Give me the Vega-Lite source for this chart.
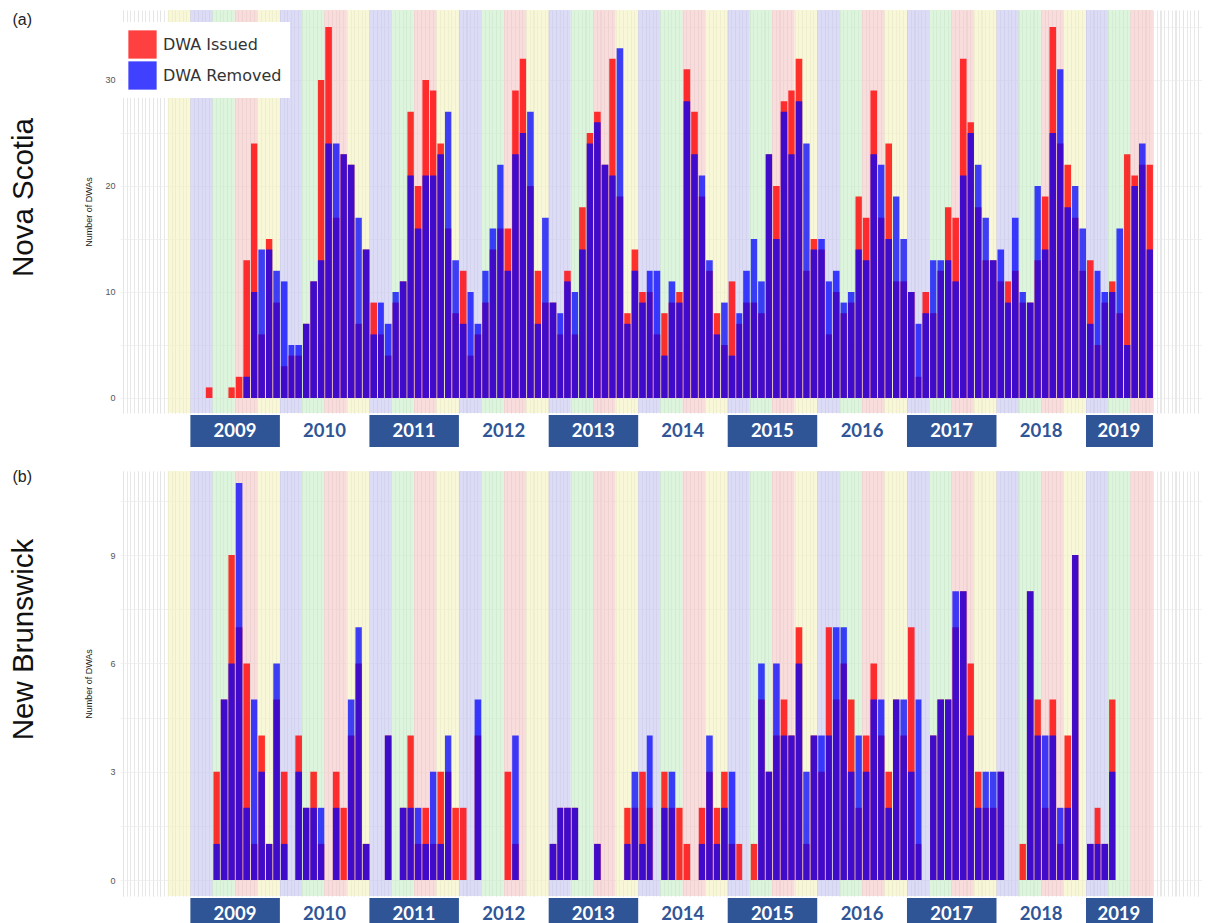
{
  "$schema": "https://vega.github.io/schema/vega-lite/v6.json",
  "background": "white",
  "padding": {"left": 8, "top": 10, "right": 0, "bottom": 0},
  "datasets": {
    "seasons": [
      {"season": "fall", "start": "2008-10-01", "end": "2009-01-01"},
      {"season": "winter", "start": "2009-01-01", "end": "2009-04-01"},
      {"season": "spring", "start": "2009-04-01", "end": "2009-07-01"},
      {"season": "summer", "start": "2009-07-01", "end": "2009-10-01"},
      {"season": "fall", "start": "2009-10-01", "end": "2010-01-01"},
      {"season": "winter", "start": "2010-01-01", "end": "2010-04-01"},
      {"season": "spring", "start": "2010-04-01", "end": "2010-07-01"},
      {"season": "summer", "start": "2010-07-01", "end": "2010-10-01"},
      {"season": "fall", "start": "2010-10-01", "end": "2011-01-01"},
      {"season": "winter", "start": "2011-01-01", "end": "2011-04-01"},
      {"season": "spring", "start": "2011-04-01", "end": "2011-07-01"},
      {"season": "summer", "start": "2011-07-01", "end": "2011-10-01"},
      {"season": "fall", "start": "2011-10-01", "end": "2012-01-01"},
      {"season": "winter", "start": "2012-01-01", "end": "2012-04-01"},
      {"season": "spring", "start": "2012-04-01", "end": "2012-07-01"},
      {"season": "summer", "start": "2012-07-01", "end": "2012-10-01"},
      {"season": "fall", "start": "2012-10-01", "end": "2013-01-01"},
      {"season": "winter", "start": "2013-01-01", "end": "2013-04-01"},
      {"season": "spring", "start": "2013-04-01", "end": "2013-07-01"},
      {"season": "summer", "start": "2013-07-01", "end": "2013-10-01"},
      {"season": "fall", "start": "2013-10-01", "end": "2014-01-01"},
      {"season": "winter", "start": "2014-01-01", "end": "2014-04-01"},
      {"season": "spring", "start": "2014-04-01", "end": "2014-07-01"},
      {"season": "summer", "start": "2014-07-01", "end": "2014-10-01"},
      {"season": "fall", "start": "2014-10-01", "end": "2015-01-01"},
      {"season": "winter", "start": "2015-01-01", "end": "2015-04-01"},
      {"season": "spring", "start": "2015-04-01", "end": "2015-07-01"},
      {"season": "summer", "start": "2015-07-01", "end": "2015-10-01"},
      {"season": "fall", "start": "2015-10-01", "end": "2016-01-01"},
      {"season": "winter", "start": "2016-01-01", "end": "2016-04-01"},
      {"season": "spring", "start": "2016-04-01", "end": "2016-07-01"},
      {"season": "summer", "start": "2016-07-01", "end": "2016-10-01"},
      {"season": "fall", "start": "2016-10-01", "end": "2017-01-01"},
      {"season": "winter", "start": "2017-01-01", "end": "2017-04-01"},
      {"season": "spring", "start": "2017-04-01", "end": "2017-07-01"},
      {"season": "summer", "start": "2017-07-01", "end": "2017-10-01"},
      {"season": "fall", "start": "2017-10-01", "end": "2018-01-01"},
      {"season": "winter", "start": "2018-01-01", "end": "2018-04-01"},
      {"season": "spring", "start": "2018-04-01", "end": "2018-07-01"},
      {"season": "summer", "start": "2018-07-01", "end": "2018-10-01"},
      {"season": "fall", "start": "2018-10-01", "end": "2019-01-01"},
      {"season": "winter", "start": "2019-01-01", "end": "2019-04-01"},
      {"season": "spring", "start": "2019-04-01", "end": "2019-07-01"},
      {"season": "summer", "start": "2019-07-01", "end": "2019-10-01"}
    ],
    "years": [
      {"year": 2009, "start": "2009-01-01", "end": "2010-01-01", "mid": "2009-07-02"},
      {"year": 2010, "start": "2010-01-01", "end": "2011-01-01", "mid": "2010-07-02"},
      {"year": 2011, "start": "2011-01-01", "end": "2012-01-01", "mid": "2011-07-02"},
      {"year": 2012, "start": "2012-01-01", "end": "2013-01-01", "mid": "2012-07-02"},
      {"year": 2013, "start": "2013-01-01", "end": "2014-01-01", "mid": "2013-07-02"},
      {"year": 2014, "start": "2014-01-01", "end": "2015-01-01", "mid": "2014-07-02"},
      {"year": 2015, "start": "2015-01-01", "end": "2016-01-01", "mid": "2015-07-02"},
      {"year": 2016, "start": "2016-01-01", "end": "2017-01-01", "mid": "2016-07-02"},
      {"year": 2017, "start": "2017-01-01", "end": "2018-01-01", "mid": "2017-07-02"},
      {"year": 2018, "start": "2018-01-01", "end": "2019-01-01", "mid": "2018-07-02"},
      {"year": 2019, "start": "2019-01-01", "end": "2019-10-01", "mid": "2019-05-15"}
    ],
    "ns": [
      {"month": "2009-03-01", "issued": 1, "removed": 0},
      {"month": "2009-06-01", "issued": 1, "removed": 0},
      {"month": "2009-07-01", "issued": 2, "removed": 0},
      {"month": "2009-08-01", "issued": 13, "removed": 2},
      {"month": "2009-09-01", "issued": 24, "removed": 10},
      {"month": "2009-10-01", "issued": 6, "removed": 14},
      {"month": "2009-11-01", "issued": 15, "removed": 14},
      {"month": "2009-12-01", "issued": 9, "removed": 12},
      {"month": "2010-01-01", "issued": 3, "removed": 11},
      {"month": "2010-02-01", "issued": 4, "removed": 5},
      {"month": "2010-03-01", "issued": 4, "removed": 5},
      {"month": "2010-04-01", "issued": 7, "removed": 7},
      {"month": "2010-05-01", "issued": 11, "removed": 11},
      {"month": "2010-06-01", "issued": 30, "removed": 13},
      {"month": "2010-07-01", "issued": 35, "removed": 24},
      {"month": "2010-08-01", "issued": 17, "removed": 24},
      {"month": "2010-09-01", "issued": 23, "removed": 23},
      {"month": "2010-10-01", "issued": 22, "removed": 22},
      {"month": "2010-11-01", "issued": 7, "removed": 17},
      {"month": "2010-12-01", "issued": 14, "removed": 14},
      {"month": "2011-01-01", "issued": 9, "removed": 6},
      {"month": "2011-02-01", "issued": 6, "removed": 9},
      {"month": "2011-03-01", "issued": 4, "removed": 7},
      {"month": "2011-04-01", "issued": 9, "removed": 10},
      {"month": "2011-05-01", "issued": 11, "removed": 11},
      {"month": "2011-06-01", "issued": 27, "removed": 21},
      {"month": "2011-07-01", "issued": 20, "removed": 16},
      {"month": "2011-08-01", "issued": 30, "removed": 21},
      {"month": "2011-09-01", "issued": 29, "removed": 21},
      {"month": "2011-10-01", "issued": 24, "removed": 23},
      {"month": "2011-11-01", "issued": 16, "removed": 27},
      {"month": "2011-12-01", "issued": 8, "removed": 13},
      {"month": "2012-01-01", "issued": 12, "removed": 7},
      {"month": "2012-02-01", "issued": 4, "removed": 10},
      {"month": "2012-03-01", "issued": 6, "removed": 7},
      {"month": "2012-04-01", "issued": 9, "removed": 12},
      {"month": "2012-05-01", "issued": 14, "removed": 16},
      {"month": "2012-06-01", "issued": 16, "removed": 22},
      {"month": "2012-07-01", "issued": 16, "removed": 12},
      {"month": "2012-08-01", "issued": 29, "removed": 23},
      {"month": "2012-09-01", "issued": 32, "removed": 25},
      {"month": "2012-10-01", "issued": 20, "removed": 27},
      {"month": "2012-11-01", "issued": 12, "removed": 7},
      {"month": "2012-12-01", "issued": 9, "removed": 17},
      {"month": "2013-01-01", "issued": 9, "removed": 9},
      {"month": "2013-02-01", "issued": 6, "removed": 8},
      {"month": "2013-03-01", "issued": 12, "removed": 11},
      {"month": "2013-04-01", "issued": 6, "removed": 10},
      {"month": "2013-05-01", "issued": 18, "removed": 14},
      {"month": "2013-06-01", "issued": 25, "removed": 24},
      {"month": "2013-07-01", "issued": 27, "removed": 26},
      {"month": "2013-08-01", "issued": 22, "removed": 22},
      {"month": "2013-09-01", "issued": 32, "removed": 21},
      {"month": "2013-10-01", "issued": 19, "removed": 33},
      {"month": "2013-11-01", "issued": 8, "removed": 7},
      {"month": "2013-12-01", "issued": 14, "removed": 12},
      {"month": "2014-01-01", "issued": 10, "removed": 9},
      {"month": "2014-02-01", "issued": 10, "removed": 12},
      {"month": "2014-03-01", "issued": 6, "removed": 12},
      {"month": "2014-04-01", "issued": 8, "removed": 4},
      {"month": "2014-05-01", "issued": 9, "removed": 11},
      {"month": "2014-06-01", "issued": 10, "removed": 9},
      {"month": "2014-07-01", "issued": 31, "removed": 28},
      {"month": "2014-08-01", "issued": 27, "removed": 23},
      {"month": "2014-09-01", "issued": 19, "removed": 21},
      {"month": "2014-10-01", "issued": 12, "removed": 13},
      {"month": "2014-11-01", "issued": 8, "removed": 6},
      {"month": "2014-12-01", "issued": 5, "removed": 9},
      {"month": "2015-01-01", "issued": 11, "removed": 4},
      {"month": "2015-02-01", "issued": 7, "removed": 8},
      {"month": "2015-03-01", "issued": 9, "removed": 12},
      {"month": "2015-04-01", "issued": 9, "removed": 15},
      {"month": "2015-05-01", "issued": 8, "removed": 11},
      {"month": "2015-06-01", "issued": 23, "removed": 23},
      {"month": "2015-07-01", "issued": 20, "removed": 15},
      {"month": "2015-08-01", "issued": 28, "removed": 27},
      {"month": "2015-09-01", "issued": 29, "removed": 23},
      {"month": "2015-10-01", "issued": 32, "removed": 28},
      {"month": "2015-11-01", "issued": 12, "removed": 24},
      {"month": "2015-12-01", "issued": 15, "removed": 14},
      {"month": "2016-01-01", "issued": 14, "removed": 15},
      {"month": "2016-02-01", "issued": 6, "removed": 11},
      {"month": "2016-03-01", "issued": 10, "removed": 12},
      {"month": "2016-04-01", "issued": 8, "removed": 9},
      {"month": "2016-05-01", "issued": 9, "removed": 10},
      {"month": "2016-06-01", "issued": 19, "removed": 14},
      {"month": "2016-07-01", "issued": 17, "removed": 13},
      {"month": "2016-08-01", "issued": 29, "removed": 23},
      {"month": "2016-09-01", "issued": 17, "removed": 22},
      {"month": "2016-10-01", "issued": 24, "removed": 15},
      {"month": "2016-11-01", "issued": 11, "removed": 19},
      {"month": "2016-12-01", "issued": 11, "removed": 15},
      {"month": "2017-01-01", "issued": 10, "removed": 10},
      {"month": "2017-02-01", "issued": 2, "removed": 7},
      {"month": "2017-03-01", "issued": 10, "removed": 8},
      {"month": "2017-04-01", "issued": 8, "removed": 13},
      {"month": "2017-05-01", "issued": 12, "removed": 13},
      {"month": "2017-06-01", "issued": 18, "removed": 13},
      {"month": "2017-07-01", "issued": 17, "removed": 11},
      {"month": "2017-08-01", "issued": 32, "removed": 21},
      {"month": "2017-09-01", "issued": 26, "removed": 25},
      {"month": "2017-10-01", "issued": 18, "removed": 22},
      {"month": "2017-11-01", "issued": 13, "removed": 17},
      {"month": "2017-12-01", "issued": 13, "removed": 13},
      {"month": "2018-01-01", "issued": 11, "removed": 14},
      {"month": "2018-02-01", "issued": 11, "removed": 9},
      {"month": "2018-03-01", "issued": 12, "removed": 17},
      {"month": "2018-04-01", "issued": 9, "removed": 10},
      {"month": "2018-05-01", "issued": 9, "removed": 9},
      {"month": "2018-06-01", "issued": 13, "removed": 20},
      {"month": "2018-07-01", "issued": 19, "removed": 14},
      {"month": "2018-08-01", "issued": 35, "removed": 25},
      {"month": "2018-09-01", "issued": 24, "removed": 31},
      {"month": "2018-10-01", "issued": 22, "removed": 18},
      {"month": "2018-11-01", "issued": 17, "removed": 20},
      {"month": "2018-12-01", "issued": 12, "removed": 16},
      {"month": "2019-01-01", "issued": 13, "removed": 7},
      {"month": "2019-02-01", "issued": 5, "removed": 12},
      {"month": "2019-03-01", "issued": 9, "removed": 10},
      {"month": "2019-04-01", "issued": 11, "removed": 10},
      {"month": "2019-05-01", "issued": 8, "removed": 16},
      {"month": "2019-06-01", "issued": 23, "removed": 5},
      {"month": "2019-07-01", "issued": 21, "removed": 20},
      {"month": "2019-08-01", "issued": 22, "removed": 24},
      {"month": "2019-09-01", "issued": 22, "removed": 14}
    ],
    "nb": [
      {"month": "2009-04-01", "issued": 3, "removed": 1},
      {"month": "2009-05-01", "issued": 5, "removed": 5},
      {"month": "2009-06-01", "issued": 9, "removed": 6},
      {"month": "2009-07-01", "issued": 7, "removed": 11},
      {"month": "2009-08-01", "issued": 6, "removed": 2},
      {"month": "2009-09-01", "issued": 1, "removed": 5},
      {"month": "2009-10-01", "issued": 4, "removed": 3},
      {"month": "2009-11-01", "issued": 1, "removed": 1},
      {"month": "2009-12-01", "issued": 5, "removed": 6},
      {"month": "2010-01-01", "issued": 3, "removed": 1},
      {"month": "2010-03-01", "issued": 4, "removed": 3},
      {"month": "2010-04-01", "issued": 2, "removed": 2},
      {"month": "2010-05-01", "issued": 3, "removed": 2},
      {"month": "2010-06-01", "issued": 1, "removed": 2},
      {"month": "2010-08-01", "issued": 3, "removed": 2},
      {"month": "2010-09-01", "issued": 2, "removed": 0},
      {"month": "2010-10-01", "issued": 4, "removed": 5},
      {"month": "2010-11-01", "issued": 6, "removed": 7},
      {"month": "2010-12-01", "issued": 1, "removed": 1},
      {"month": "2011-03-01", "issued": 4, "removed": 4},
      {"month": "2011-05-01", "issued": 2, "removed": 2},
      {"month": "2011-06-01", "issued": 4, "removed": 2},
      {"month": "2011-07-01", "issued": 1, "removed": 2},
      {"month": "2011-08-01", "issued": 2, "removed": 1},
      {"month": "2011-09-01", "issued": 1, "removed": 3},
      {"month": "2011-10-01", "issued": 3, "removed": 1},
      {"month": "2011-11-01", "issued": 3, "removed": 4},
      {"month": "2011-12-01", "issued": 2, "removed": 0},
      {"month": "2012-01-01", "issued": 2, "removed": 0},
      {"month": "2012-03-01", "issued": 4, "removed": 5},
      {"month": "2012-07-01", "issued": 3, "removed": 0},
      {"month": "2012-08-01", "issued": 1, "removed": 4},
      {"month": "2013-01-01", "issued": 1, "removed": 1},
      {"month": "2013-02-01", "issued": 2, "removed": 2},
      {"month": "2013-03-01", "issued": 2, "removed": 2},
      {"month": "2013-04-01", "issued": 2, "removed": 2},
      {"month": "2013-07-01", "issued": 1, "removed": 1},
      {"month": "2013-11-01", "issued": 2, "removed": 1},
      {"month": "2013-12-01", "issued": 2, "removed": 3},
      {"month": "2014-01-01", "issued": 3, "removed": 1},
      {"month": "2014-02-01", "issued": 2, "removed": 4},
      {"month": "2014-04-01", "issued": 3, "removed": 2},
      {"month": "2014-05-01", "issued": 2, "removed": 3},
      {"month": "2014-06-01", "issued": 2, "removed": 0},
      {"month": "2014-07-01", "issued": 1, "removed": 0},
      {"month": "2014-09-01", "issued": 2, "removed": 1},
      {"month": "2014-10-01", "issued": 3, "removed": 4},
      {"month": "2014-11-01", "issued": 2, "removed": 1},
      {"month": "2014-12-01", "issued": 3, "removed": 2},
      {"month": "2015-01-01", "issued": 1, "removed": 3},
      {"month": "2015-02-01", "issued": 1, "removed": 0},
      {"month": "2015-04-01", "issued": 1, "removed": 0},
      {"month": "2015-05-01", "issued": 5, "removed": 6},
      {"month": "2015-06-01", "issued": 3, "removed": 3},
      {"month": "2015-07-01", "issued": 4, "removed": 6},
      {"month": "2015-08-01", "issued": 5, "removed": 4},
      {"month": "2015-09-01", "issued": 4, "removed": 4},
      {"month": "2015-10-01", "issued": 7, "removed": 6},
      {"month": "2015-11-01", "issued": 1, "removed": 3},
      {"month": "2015-12-01", "issued": 4, "removed": 4},
      {"month": "2016-01-01", "issued": 3, "removed": 4},
      {"month": "2016-02-01", "issued": 7, "removed": 4},
      {"month": "2016-03-01", "issued": 5, "removed": 7},
      {"month": "2016-04-01", "issued": 6, "removed": 7},
      {"month": "2016-05-01", "issued": 5, "removed": 3},
      {"month": "2016-06-01", "issued": 2, "removed": 4},
      {"month": "2016-07-01", "issued": 4, "removed": 3},
      {"month": "2016-08-01", "issued": 6, "removed": 5},
      {"month": "2016-09-01", "issued": 4, "removed": 5},
      {"month": "2016-10-01", "issued": 3, "removed": 2},
      {"month": "2016-11-01", "issued": 5, "removed": 5},
      {"month": "2016-12-01", "issued": 4, "removed": 5},
      {"month": "2017-01-01", "issued": 7, "removed": 3},
      {"month": "2017-02-01", "issued": 1, "removed": 5},
      {"month": "2017-04-01", "issued": 4, "removed": 4},
      {"month": "2017-05-01", "issued": 5, "removed": 5},
      {"month": "2017-06-01", "issued": 5, "removed": 5},
      {"month": "2017-07-01", "issued": 7, "removed": 8},
      {"month": "2017-08-01", "issued": 8, "removed": 8},
      {"month": "2017-09-01", "issued": 6, "removed": 4},
      {"month": "2017-10-01", "issued": 3, "removed": 2},
      {"month": "2017-11-01", "issued": 2, "removed": 3},
      {"month": "2017-12-01", "issued": 2, "removed": 3},
      {"month": "2018-01-01", "issued": 3, "removed": 3},
      {"month": "2018-04-01", "issued": 1, "removed": 0},
      {"month": "2018-05-01", "issued": 8, "removed": 8},
      {"month": "2018-06-01", "issued": 5, "removed": 4},
      {"month": "2018-07-01", "issued": 2, "removed": 4},
      {"month": "2018-08-01", "issued": 5, "removed": 4},
      {"month": "2018-09-01", "issued": 1, "removed": 2},
      {"month": "2018-10-01", "issued": 4, "removed": 2},
      {"month": "2018-11-01", "issued": 9, "removed": 9},
      {"month": "2019-01-01", "issued": 1, "removed": 1},
      {"month": "2019-02-01", "issued": 2, "removed": 1},
      {"month": "2019-03-01", "issued": 1, "removed": 1},
      {"month": "2019-04-01", "issued": 5, "removed": 3}
    ]
  },
  "spacing": 22,
  "resolve": {
    "scale": {"color": "independent", "fill": "independent", "x": "independent", "y": "independent"},
    "legend": {"color": "independent"}
  },
  "vconcat": [
    {
      "title": {"text": "(a)", "orient": "top", "anchor": "start", "frame": "bounds", "offset": -18, "dx": 4, "fontSize": 16, "fontWeight": "normal", "color": "#222222"},
      "spacing": 2,
      "vconcat": [
        {
          "width": 1082,
          "height": 403,
          "title": {"text": "Nova Scotia", "orient": "left", "anchor": "middle", "fontSize": 29.5, "fontWeight": "normal", "offset": 45, "dx": 14, "color": "#111111"},
          "layer": [
            {
              "data": {"name": "seasons"},
              "mark": {"type": "rect", "opacity": 0.6},
              "encoding": {
                "x": {"field": "start", "type": "temporal", "scale": {"type": "utc", "domain": [{"year": 2008, "month": 3, "date": 20, "utc": true}, {"year": 2020, "month": 4, "date": 18, "utc": true}], "nice": false}, "axis": {"title": null, "labels": false, "ticks": false, "domain": false, "grid": true, "gridColor": "#e2e2e2", "gridWidth": 0.8, "tickCount": {"interval": "day", "step": 15}}},
                "x2": {"field": "end"},
                "fill": {"field": "season", "type": "nominal", "scale": {"domain": ["winter", "spring", "summer", "fall"], "range": ["#c5c5f2", "#c5eec5", "#f5c5c5", "#f3f3be"]}, "legend": null}
              }
            },
            {
              "data": {"name": "ns"},
              "mark": {"type": "bar", "opacity": 0.8},
              "encoding": {
                "x": {"field": "month", "type": "temporal", "timeUnit": "utcyearmonth", "scale": {"type": "utc", "domain": [{"year": 2008, "month": 3, "date": 20, "utc": true}, {"year": 2020, "month": 4, "date": 18, "utc": true}], "nice": false}, "axis": {"title": null, "labels": false, "ticks": false, "domain": false, "grid": true, "gridColor": "#e2e2e2", "gridWidth": 0.8, "tickCount": {"interval": "day", "step": 15}}},
                "y": {"field": "issued", "type": "quantitative", "scale": {"domain": [-1.415, 36.6], "nice": false}, "axis": {"values": [0, 5, 10, 15, 20, 25, 30, 35], "labelExpr": "datum.value % 10 === 0 ? datum.label : ''", "title": "Number of DWAs", "titleFontSize": 9, "titleFontWeight": "normal", "titleColor": "#1a1a1a", "labelFontSize": 9, "labelColor": "#555555", "ticks": false, "domain": false, "grid": true, "gridColor": "#ebebeb", "gridWidth": 0.7, "labelPadding": 5, "minExtent": 16, "maxExtent": 16, "titlePadding": 11}},
                "color": {"datum": "DWA Issued", "type": "nominal", "scale": {"domain": ["DWA Issued", "DWA Removed"], "range": ["#ff0000", "#0000ff"]}, "legend": {"orient": "none", "legendX": 0, "legendY": 12, "title": null, "symbolType": "square", "symbolSize": 800, "symbolOpacity": 1, "symbolStrokeWidth": 0, "labelFont": "DejaVu Sans", "labelFontSize": 16, "labelColor": "#333333", "fillColor": "white", "padding": 8, "rowPadding": 2, "labelOffset": 6}}
              }
            },
            {
              "data": {"name": "ns"},
              "mark": {"type": "bar", "opacity": 0.75},
              "encoding": {
                "x": {"field": "month", "type": "temporal", "timeUnit": "utcyearmonth", "scale": {"type": "utc", "domain": [{"year": 2008, "month": 3, "date": 20, "utc": true}, {"year": 2020, "month": 4, "date": 18, "utc": true}], "nice": false}, "axis": {"title": null, "labels": false, "ticks": false, "domain": false, "grid": true, "gridColor": "#e2e2e2", "gridWidth": 0.8, "tickCount": {"interval": "day", "step": 15}}},
                "y": {"field": "removed", "type": "quantitative", "scale": {"domain": [-1.415, 36.6], "nice": false}, "axis": {"values": [0, 5, 10, 15, 20, 25, 30, 35], "labelExpr": "datum.value % 10 === 0 ? datum.label : ''", "title": "Number of DWAs", "titleFontSize": 9, "titleFontWeight": "normal", "titleColor": "#1a1a1a", "labelFontSize": 9, "labelColor": "#555555", "ticks": false, "domain": false, "grid": true, "gridColor": "#ebebeb", "gridWidth": 0.7, "labelPadding": 5, "minExtent": 16, "maxExtent": 16, "titlePadding": 11}},
                "color": {"datum": "DWA Removed", "type": "nominal"}
              }
            }
          ]
        },
        {
          "width": 1082,
          "height": 32,
          "layer": [
            {
              "data": {"name": "years"},
              "transform": [{"filter": "datum.year % 2 === 1"}],
              "mark": {"type": "rect", "color": "#2f5597"},
              "encoding": {
                "x": {"field": "start", "type": "temporal", "scale": {"type": "utc", "domain": [{"year": 2008, "month": 3, "date": 20, "utc": true}, {"year": 2020, "month": 4, "date": 18, "utc": true}], "nice": false}, "axis": null},
                "x2": {"field": "end"}
              }
            },
            {
              "data": {"name": "years"},
              "mark": {"type": "text", "font": "Lato", "fontSize": 18.5, "fontWeight": "bold"},
              "encoding": {
                "x": {"field": "mid", "type": "temporal", "scale": {"type": "utc", "domain": [{"year": 2008, "month": 3, "date": 20, "utc": true}, {"year": 2020, "month": 4, "date": 18, "utc": true}], "nice": false}, "axis": null},
                "text": {"field": "year", "type": "nominal"},
                "color": {"condition": {"test": "datum.year % 2 === 1", "value": "white"}, "value": "#2f5597"}
              }
            }
          ]
        }
      ]
    },
    {
      "title": {"text": "(b)", "orient": "top", "anchor": "start", "frame": "bounds", "offset": -14, "dx": 4, "fontSize": 16, "fontWeight": "normal", "color": "#222222"},
      "spacing": 2,
      "vconcat": [
        {
          "width": 1082,
          "height": 425,
          "title": {"text": "New Brunswick", "orient": "left", "anchor": "middle", "fontSize": 29.5, "fontWeight": "normal", "offset": 45, "dx": 44, "color": "#111111"},
          "layer": [
            {
              "data": {"name": "seasons"},
              "mark": {"type": "rect", "opacity": 0.6},
              "encoding": {
                "x": {"field": "start", "type": "temporal", "scale": {"type": "utc", "domain": [{"year": 2008, "month": 3, "date": 20, "utc": true}, {"year": 2020, "month": 4, "date": 18, "utc": true}], "nice": false}, "axis": {"title": null, "labels": false, "ticks": false, "domain": false, "grid": true, "gridColor": "#e2e2e2", "gridWidth": 0.8, "tickCount": {"interval": "day", "step": 15}}},
                "x2": {"field": "end"},
                "fill": {"field": "season", "type": "nominal", "scale": {"domain": ["winter", "spring", "summer", "fall"], "range": ["#c5c5f2", "#c5eec5", "#f5c5c5", "#f3f3be"]}, "legend": null}
              }
            },
            {
              "data": {"name": "nb"},
              "mark": {"type": "bar", "opacity": 0.8},
              "encoding": {
                "x": {"field": "month", "type": "temporal", "timeUnit": "utcyearmonth", "scale": {"type": "utc", "domain": [{"year": 2008, "month": 3, "date": 20, "utc": true}, {"year": 2020, "month": 4, "date": 18, "utc": true}], "nice": false}, "axis": {"title": null, "labels": false, "ticks": false, "domain": false, "grid": true, "gridColor": "#e2e2e2", "gridWidth": 0.8, "tickCount": {"interval": "day", "step": 15}}},
                "y": {"field": "issued", "type": "quantitative", "scale": {"domain": [-0.443, 11.33], "nice": false}, "axis": {"values": [0, 1.5, 3, 4.5, 6, 7.5, 9, 10.5], "labelExpr": "datum.value % 3 === 0 ? datum.label : ''", "title": "Number of DWAs", "titleFontSize": 9, "titleFontWeight": "normal", "titleColor": "#1a1a1a", "labelFontSize": 9, "labelColor": "#555555", "ticks": false, "domain": false, "grid": true, "gridColor": "#ebebeb", "gridWidth": 0.7, "labelPadding": 5, "minExtent": 16, "maxExtent": 16, "titlePadding": 11}},
                "color": {"datum": "DWA Issued", "type": "nominal", "scale": {"domain": ["DWA Issued", "DWA Removed"], "range": ["#ff0000", "#0000ff"]}, "legend": null}
              }
            },
            {
              "data": {"name": "nb"},
              "mark": {"type": "bar", "opacity": 0.75},
              "encoding": {
                "x": {"field": "month", "type": "temporal", "timeUnit": "utcyearmonth", "scale": {"type": "utc", "domain": [{"year": 2008, "month": 3, "date": 20, "utc": true}, {"year": 2020, "month": 4, "date": 18, "utc": true}], "nice": false}, "axis": {"title": null, "labels": false, "ticks": false, "domain": false, "grid": true, "gridColor": "#e2e2e2", "gridWidth": 0.8, "tickCount": {"interval": "day", "step": 15}}},
                "y": {"field": "removed", "type": "quantitative", "scale": {"domain": [-0.443, 11.33], "nice": false}, "axis": {"values": [0, 1.5, 3, 4.5, 6, 7.5, 9, 10.5], "labelExpr": "datum.value % 3 === 0 ? datum.label : ''", "title": "Number of DWAs", "titleFontSize": 9, "titleFontWeight": "normal", "titleColor": "#1a1a1a", "labelFontSize": 9, "labelColor": "#555555", "ticks": false, "domain": false, "grid": true, "gridColor": "#ebebeb", "gridWidth": 0.7, "labelPadding": 5, "minExtent": 16, "maxExtent": 16, "titlePadding": 11}},
                "color": {"datum": "DWA Removed", "type": "nominal", "legend": null}
              }
            }
          ]
        },
        {
          "width": 1082,
          "height": 32,
          "layer": [
            {
              "data": {"name": "years"},
              "transform": [{"filter": "datum.year % 2 === 1"}],
              "mark": {"type": "rect", "color": "#2f5597"},
              "encoding": {
                "x": {"field": "start", "type": "temporal", "scale": {"type": "utc", "domain": [{"year": 2008, "month": 3, "date": 20, "utc": true}, {"year": 2020, "month": 4, "date": 18, "utc": true}], "nice": false}, "axis": null},
                "x2": {"field": "end"}
              }
            },
            {
              "data": {"name": "years"},
              "mark": {"type": "text", "font": "Lato", "fontSize": 18.5, "fontWeight": "bold"},
              "encoding": {
                "x": {"field": "mid", "type": "temporal", "scale": {"type": "utc", "domain": [{"year": 2008, "month": 3, "date": 20, "utc": true}, {"year": 2020, "month": 4, "date": 18, "utc": true}], "nice": false}, "axis": null},
                "text": {"field": "year", "type": "nominal"},
                "color": {"condition": {"test": "datum.year % 2 === 1", "value": "white"}, "value": "#2f5597"}
              }
            }
          ]
        }
      ]
    }
  ],
  "config": {
    "view": {"stroke": null},
    "font": "Liberation Sans",
    "axis": {"labelFont": "Liberation Sans", "titleFont": "Liberation Sans"},
    "legend": {"labelFont": "Liberation Sans"},
    "title": {"font": "Liberation Sans"}
  }
}
